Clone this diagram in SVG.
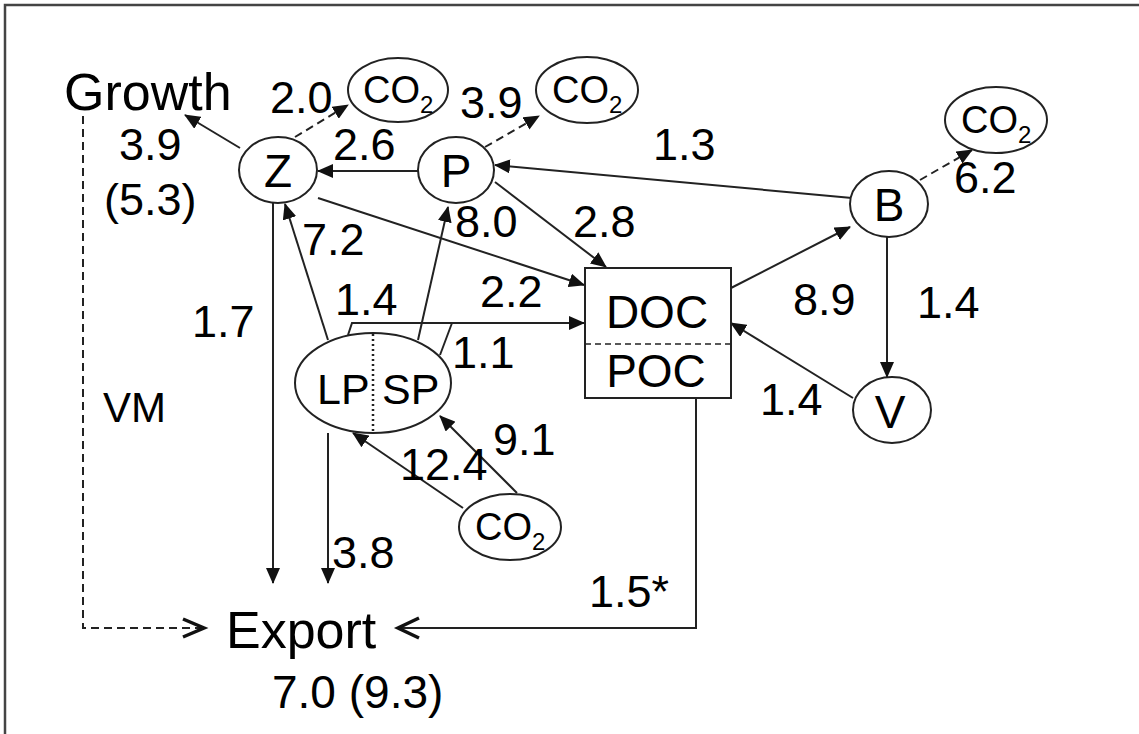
<svg xmlns="http://www.w3.org/2000/svg" width="1139" height="734" viewBox="0 0 1139 734">
<defs>
<marker id="ah" viewBox="0 0 16 14" refX="15" refY="7" markerWidth="16" markerHeight="14" markerUnits="userSpaceOnUse" orient="auto">
<path d="M0,0 L16,7 L0,14 z" fill="#111"/>
</marker>
</defs>
<style>
text{font-family:"Liberation Sans",Arial,Helvetica,sans-serif;fill:#000}
.n{font-size:45px}
.lbl{font-size:46px;text-anchor:middle}
.co{font-size:38px}
.sub{font-size:24px}
.shape{fill:#fff;stroke:#222;stroke-width:2}
.ln{fill:none;stroke:#222;stroke-width:2}
.dash{fill:none;stroke:#222;stroke-width:2;stroke-dasharray:8,5}
.arr{marker-end:url(#ah)}
.chev{fill:none;stroke:#111;stroke-width:3.5;stroke-linejoin:miter}
</style>
<rect width="1139" height="734" fill="#fff"/>
<path d="M5,734 V5 H1139" fill="none" stroke="#444" stroke-width="2.5"/>

<g id="connectors">
<line class="ln arr" x1="240" y1="148" x2="185" y2="115"/>
<line class="dash arr" x1="295" y1="137" x2="348" y2="105"/>
<line class="ln arr" x1="418" y1="171" x2="318" y2="171"/>
<line class="dash arr" x1="485" y1="147" x2="539" y2="116"/>
<line class="ln arr" x1="852" y1="198" x2="495" y2="165"/>
<line class="dash arr" x1="920" y1="180" x2="972" y2="150"/>
<line class="ln arr" x1="318" y1="198" x2="584" y2="285"/>
<line class="ln arr" x1="495" y1="182" x2="606" y2="267"/>
<line class="ln arr" x1="328" y1="340" x2="285" y2="204"/>
<line class="ln arr" x1="418" y1="340" x2="448" y2="207"/>
<polyline class="ln arr" points="348,335 352,323 584,323"/>
<line class="ln" x1="440" y1="355" x2="452" y2="323"/>
<line class="ln arr" x1="731" y1="288" x2="850" y2="227"/>
<line class="ln arr" x1="887" y1="237" x2="887" y2="377"/>
<line class="ln arr" x1="853" y1="398" x2="731" y2="323"/>
<line class="ln arr" x1="273" y1="203" x2="273" y2="583"/>
<line class="ln arr" x1="328" y1="433" x2="328" y2="583"/>
<line class="ln arr" x1="463" y1="508" x2="353" y2="433"/>
<line class="ln arr" x1="517" y1="493" x2="440" y2="416"/>
<polyline class="dash" points="83,116 83,628 203,628"/>
<polyline class="chev" points="183,619 204,628 183,637"/>
<polyline class="ln" points="696,398 696,628 399,628"/>
<polyline class="chev" points="419,618 398,628 419,638"/>
</g>

<g id="node-growth"><text x="64" y="110" style="font-size:52px">Growth</text></g>
<g id="node-export"><text x="226" y="648" style="font-size:52px">Export</text></g>

<g id="node-z"><ellipse class="shape" cx="278" cy="170" rx="39" ry="33"/><text class="lbl" x="278" y="187">Z</text></g>
<g id="node-p"><ellipse class="shape" cx="456" cy="170" rx="38" ry="33"/><text class="lbl" x="456" y="187">P</text></g>
<g id="node-b"><ellipse class="shape" cx="889" cy="204" rx="39" ry="33"/><text class="lbl" x="889" y="221">B</text></g>
<g id="node-v"><ellipse class="shape" cx="892" cy="410" rx="39" ry="33"/><text class="lbl" x="890" y="428">V</text></g>

<g id="node-co2-z"><ellipse class="shape" cx="398" cy="90" rx="50" ry="32"/><text class="co" x="363" y="103">CO<tspan class="sub" dy="10">2</tspan></text></g>
<g id="node-co2-p"><ellipse class="shape" cx="587" cy="90" rx="51" ry="33"/><text class="co" x="552" y="103">CO<tspan class="sub" dy="10">2</tspan></text></g>
<g id="node-co2-b"><ellipse class="shape" cx="996" cy="120" rx="51" ry="33"/><text class="co" x="961" y="133">CO<tspan class="sub" dy="10">2</tspan></text></g>
<g id="node-co2-lp"><ellipse class="shape" cx="510" cy="527" rx="51" ry="33"/><text class="co" x="475" y="540">CO<tspan class="sub" dy="10">2</tspan></text></g>

<g id="node-lpsp">
<ellipse class="shape" cx="373" cy="383" rx="78" ry="50"/>
<line x1="373" y1="334" x2="373" y2="432" stroke="#222" stroke-width="2.5" stroke-dasharray="2,3"/>
<text x="317" y="404" style="font-size:43px">LP</text>
<text x="382" y="404" style="font-size:43px">SP</text>
</g>

<g id="node-docpoc">
<rect class="shape" x="585" y="268" width="146" height="130"/>
<line x1="585" y1="344" x2="731" y2="344" stroke="#222" stroke-width="1.5" stroke-dasharray="6,4"/>
<text class="lbl" x="657" y="328">DOC</text>
<text class="lbl" x="656" y="387">POC</text>
</g>

<g id="labels">
<text class="n" x="119" y="160">3.9</text>
<text class="n" x="104" y="215">(5.3)</text>
<text class="n" x="270" y="113">2.0</text>
<text class="n" x="460" y="118">3.9</text>
<text class="n" x="333" y="160">2.6</text>
<text class="n" x="653" y="160">1.3</text>
<text class="n" x="954" y="193">6.2</text>
<text class="n" x="455" y="237">8.0</text>
<text class="n" x="573" y="237">2.8</text>
<text class="n" x="302" y="255">7.2</text>
<text class="n" x="335" y="315">1.4</text>
<text class="n" x="480" y="307">2.2</text>
<text class="n" x="192" y="337">1.7</text>
<text class="n" x="793" y="315">8.9</text>
<text class="n" x="917" y="318">1.4</text>
<text class="n" x="452" y="368">1.1</text>
<text class="n" x="103" y="422" style="font-size:42px">VM</text>
<text class="n" x="760" y="415">1.4</text>
<text class="n" x="493" y="455">9.1</text>
<text class="n" x="400" y="480">12.4</text>
<text class="n" x="332" y="568">3.8</text>
<text class="n" x="589" y="607">1.5*</text>
<text class="n" x="272" y="708" style="font-size:46px">7.0 (9.3)</text>
</g>
</svg>
